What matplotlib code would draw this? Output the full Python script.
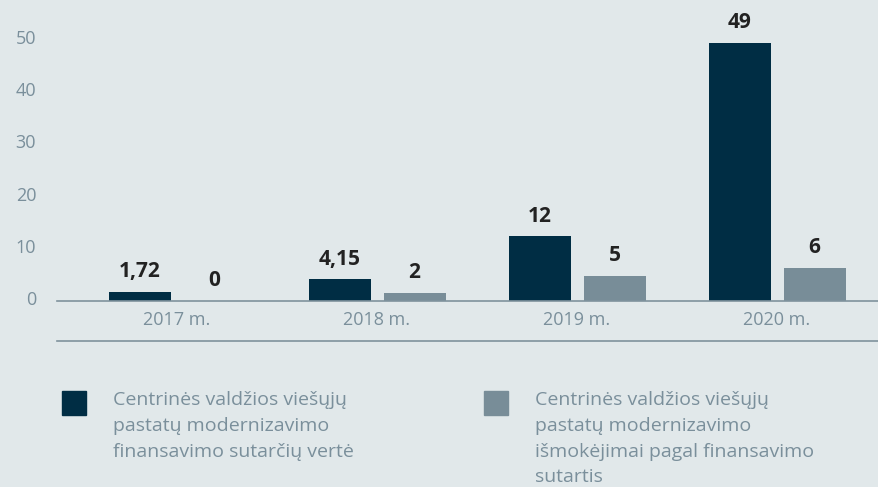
import numpy as np
import matplotlib
matplotlib.use("Agg")
import matplotlib.pyplot as plt
import matplotlib.transforms as mtrans
from matplotlib.patches import Rectangle
from matplotlib.lines import Line2D

# data
years = ["2017 m.", "2018 m.", "2019 m.", "2020 m."]
contracts = [1.72, 4.15, 12.4, 49.4]
contract_labels = ["1,72", "4,15", "12", "49"]
payments = [0.0, 1.5, 4.8, 6.4]
payment_labels = ["0", "2", "5", "6"]
series_names = [
    "Centrinės valdžios viešųjų\npastatų modernizavimo\nfinansavimo sutarčių vertė",
    "Centrinės valdžios viešųjų\npastatų modernizavimo\nišmokėjimai pagal finansavimo\nsutartis",
]
yticks = [0, 10, 20, 30, 40, 50]

bg = "#e1e8ea"
dark = "#002d44"
grey = "#788d98"
txt = "#7a8f9b"
axis_col = "#7f929d"

plt.rcParams['font.family'] = ['Open Sans', 'DejaVu Sans']

W, H = 879, 487
fig = plt.figure(figsize=(W / 100, H / 100), dpi=100, facecolor=bg)
ax = fig.add_axes([57 / W, (H - 301) / H, (W - 57) / W, (301 - 20) / H])
ax.set_facecolor(bg)

x = np.arange(len(years))
bw = 0.31
off = 0.1875
b1 = ax.bar(x - off, contracts, bw, color=dark)
b2 = ax.bar(x + off, payments, bw, color=grey)

for bars, labs in ((b1, contract_labels), (b2, payment_labels)):
    for r, lab in zip(bars, labs):
        ax.annotate(lab, (r.get_x() + r.get_width() / 2, r.get_height()),
                    xytext=(0, 7), textcoords="offset points",
                    ha="center", va="bottom", fontsize=15, fontweight="bold",
                    color="#222222")

ax.set_xlim(-0.6, 3.51)
ax.set_ylim(0, 281 / 5.22)
ax.set_xticks(x)
ax.set_xticklabels(years)
ax.set_yticks(yticks)
ax.tick_params(axis="both", length=0, colors=txt, labelsize=13)
ax.tick_params(axis="y", pad=15)
ax.tick_params(axis="x", pad=7)
shift = mtrans.ScaledTranslation(0, 3 / 100, fig.dpi_scale_trans)
for lab in ax.get_yticklabels():
    lab.set_transform(lab.get_transform() + shift)
for s in ["top", "right", "left"]:
    ax.spines[s].set_visible(False)
ax.spines["bottom"].set_color(axis_col)
ax.spines["bottom"].set_linewidth(1.2)

# lower rule under the category labels
fig.add_artist(Line2D([57 / W, 1], [(H - 341) / H] * 2, color=axis_col, lw=1.2))

# legend: first baseline near 406 px, ~25.5 px between lines
for i, (name, col) in enumerate(zip(series_names, [dark, grey])):
    x0 = 62 + i * 422
    fig.add_artist(Rectangle((x0 / W, (H - 415) / H), 24 / W, 24 / H,
                             transform=fig.transFigure, color=col))
    last = 406 + 25.5 * name.count("\n")
    fig.text((x0 + 51) / W, (H - last) / H, name, ha="left", va="baseline",
             fontsize=14, color=txt, linespacing=1.56)

fig.savefig("out.png", dpi=100, facecolor=bg)
